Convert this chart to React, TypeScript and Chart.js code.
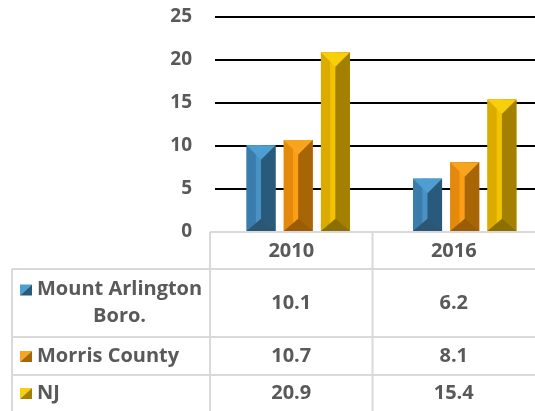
import React, { useEffect, useRef } from 'react';
import { Chart, registerables } from 'chart.js';

Chart.register(...registerables);

// ---- data ----
const categories = ['2010', '2016'];
const seriesNames = ['Mount Arlington Boro.', 'Morris County', 'NJ'];
const seriesLabelLines = [['Mount Arlington', 'Boro.'], ['Morris County'], ['NJ']];
const mountArlington = [10.1, 6.2];
const morrisCounty = [10.7, 8.1];
const nj = [20.9, 15.4];
const yTicks = [0, 5, 10, 15, 20, 25];

const seriesValues = [mountArlington, morrisCounty, nj];

// ---- styles / layout ----
const VIEW_W = 535;
const VIEW_H = 411;
const CANVAS_W = 548;
const palette = [
  { left: '#3a7dac', right: '#2a5a7b', top: '#4d9fd2', bottom: '#2b5674', ridge: '#4a92c4' },
  { left: '#e38a0c', right: '#a86506', top: '#f7a51f', bottom: '#9a5d06', ridge: '#fd9e18' },
  { left: '#dcab00', right: '#a38000', top: '#f8cf08', bottom: '#8c6f00', ridge: '#f2c300' },
];
const FONT = '"Open Sans", sans-serif';
const TEXT = '#595959';
const TABLE_LINE = '#d9d9d9';

const bevelPlugin = {
  id: 'bevelBars',
  afterDatasetsDraw(chart: any) {
    const ctx = chart.ctx;
    chart.data.datasets.forEach((_ds: any, di: number) => {
      const meta = chart.getDatasetMeta(di);
      const p = palette[di];
      meta.data.forEach((el: any) => {
        const { x, y, base, width } = el.getProps(['x', 'y', 'base', 'width'], true);
        const l = x - width / 2;
        const r = x + width / 2;
        const h = base - y;
        const tDepth = Math.min(width * 0.5, h / 2);
        const bDepth = Math.min(width * 0.42, h / 2);
        const poly = (pts: number[][], color: string) => {
          ctx.beginPath();
          ctx.moveTo(pts[0][0], pts[0][1]);
          for (let i = 1; i < pts.length; i++) ctx.lineTo(pts[i][0], pts[i][1]);
          ctx.closePath();
          ctx.fillStyle = color;
          ctx.fill();
        };
        ctx.save();
        poly([[l, y], [x, y], [x, base], [l, base]], p.left);
        poly([[x - width * 0.18, y], [x, y], [x, base], [x - width * 0.18, base]], p.ridge);
        poly([[x, y], [r, y], [r, base], [x, base]], p.right);
        poly([[l, y], [r, y], [x, y + tDepth]], p.top);
        poly([[l, base], [x, base - bDepth], [r, base]], p.bottom);
        ctx.restore();
      });
    });
  },
};

const tablePlugin = {
  id: 'dataTable',
  afterDraw(chart: any) {
    const ctx = chart.ctx;
    const xs = chart.scales.x;
    const area = chart.chartArea;
    const colLeft = xs.left - 5;
    const colRight = VIEW_W;
    const colMid = (colLeft + colRight) / 2;
    const tableTop = area.bottom;
    const headerBottom = tableTop + 37;
    const rowBottoms = [headerBottom + 68, headerBottom + 106, chart.height + 2];
    const rowTops = [headerBottom, rowBottoms[0], rowBottoms[1]];
    const labelLeft = 12;

    ctx.save();
    ctx.strokeStyle = TABLE_LINE;
    ctx.lineWidth = 2;
    const line = (x1: number, y1: number, x2: number, y2: number) => {
      ctx.beginPath();
      ctx.moveTo(x1, y1);
      ctx.lineTo(x2, y2);
      ctx.stroke();
    };
    line(colLeft, tableTop, chart.width, tableTop);
    line(labelLeft, headerBottom, chart.width, headerBottom);
    line(labelLeft, rowBottoms[0], chart.width, rowBottoms[0]);
    line(labelLeft, rowBottoms[1], chart.width, rowBottoms[1]);
    line(colLeft, tableTop, colLeft, chart.height);
    line(colMid, tableTop, colMid, chart.height);
    line(labelLeft, headerBottom, labelLeft, chart.height);

    ctx.fillStyle = TEXT;
    ctx.font = `bold 20px ${FONT}`;
    ctx.textBaseline = 'middle';
    ctx.textAlign = 'center';
    const colCenters = [(colLeft + colMid) / 2, (colMid + colRight) / 2];
    categories.forEach((c, i) => ctx.fillText(c, colCenters[i], (tableTop + headerBottom) / 2 + 1));

    seriesNames.forEach((_name, si) => {
      const top = rowTops[si];
      const bottom = Math.min(rowBottoms[si], chart.height + 1);
      const cy = si === 2 ? top + 18 : (top + bottom) / 2;
      const lines = seriesLabelLines[si];
      const lh = 27;
      const firstY = cy - ((lines.length - 1) * lh) / 2;
      const p = palette[si];
      const kx = 20, ks = 12, ky = firstY - 5;
      ctx.beginPath();
      ctx.moveTo(kx, ky); ctx.lineTo(kx + ks, ky); ctx.lineTo(kx, ky + ks - 1); ctx.closePath();
      ctx.fillStyle = p.top; ctx.fill();
      ctx.beginPath();
      ctx.moveTo(kx + ks, ky); ctx.lineTo(kx + ks, ky + ks - 1); ctx.lineTo(kx, ky + ks - 1); ctx.closePath();
      ctx.fillStyle = p.right; ctx.fill();

      ctx.fillStyle = TEXT;
      ctx.textAlign = 'left';
      ctx.fillText(lines[0], 37, firstY);
      const w0 = ctx.measureText(lines[0]).width;
      ctx.textAlign = 'center';
      for (let li = 1; li < lines.length; li++) {
        ctx.fillText(lines[li], 37 + w0 / 2, firstY + li * lh);
      }
      seriesValues[si].forEach((v, ci) => {
        ctx.fillText(v.toFixed(1), colCenters[ci], cy);
      });
    });
    ctx.restore();
  },
};

export default function App() {
  const ref = useRef<HTMLCanvasElement | null>(null);
  useEffect(() => {
    if (!ref.current) return;
    const chart = new Chart(ref.current, {
      type: 'bar',
      data: {
        labels: categories,
        datasets: seriesNames.map((name, i) => ({
          label: name,
          data: seriesValues[i],
          backgroundColor: palette[i].left,
          borderWidth: 0,
          barPercentage: 0.78,
          categoryPercentage: 0.67,
        })),
      },
      options: {
        animation: false,
        responsive: false,
        devicePixelRatio: 1,
        layout: { padding: { top: 17, bottom: 179, left: 0, right: 0 } },
        plugins: { legend: { display: false }, tooltip: { enabled: false }, title: { display: false } },
        scales: {
          x: { display: false, offset: true },
          y: {
            min: 0,
            max: 25,
            afterBuildTicks: (scale: any) => {
              scale.ticks = yTicks.map((v) => ({ value: v }));
            },
            afterFit: (scale: any) => {
              scale.width = 215;
              scale.paddingTop = 0;
              scale.paddingBottom = 0;
            },
            border: { display: false },
            grid: {
              drawTicks: false,
              lineWidth: 2,
              color: (c: any) => (c.tick && c.tick.value === 0 ? 'rgba(0,0,0,0)' : '#000000'),
            },
            ticks: {
              padding: 23,
              color: TEXT,
              font: { family: FONT, size: 19, weight: 'bold' },
            },
          },
        },
      },
      plugins: [bevelPlugin, tablePlugin],
    });
    return () => chart.destroy();
  }, []);
  return (
    <div style={{ position: 'fixed', left: 0, top: 0, width: VIEW_W, height: VIEW_H, background: '#fff', overflow: 'hidden' }}>
      <canvas ref={ref} width={CANVAS_W} height={VIEW_H} style={{ display: 'block' }} />
    </div>
  );
}
